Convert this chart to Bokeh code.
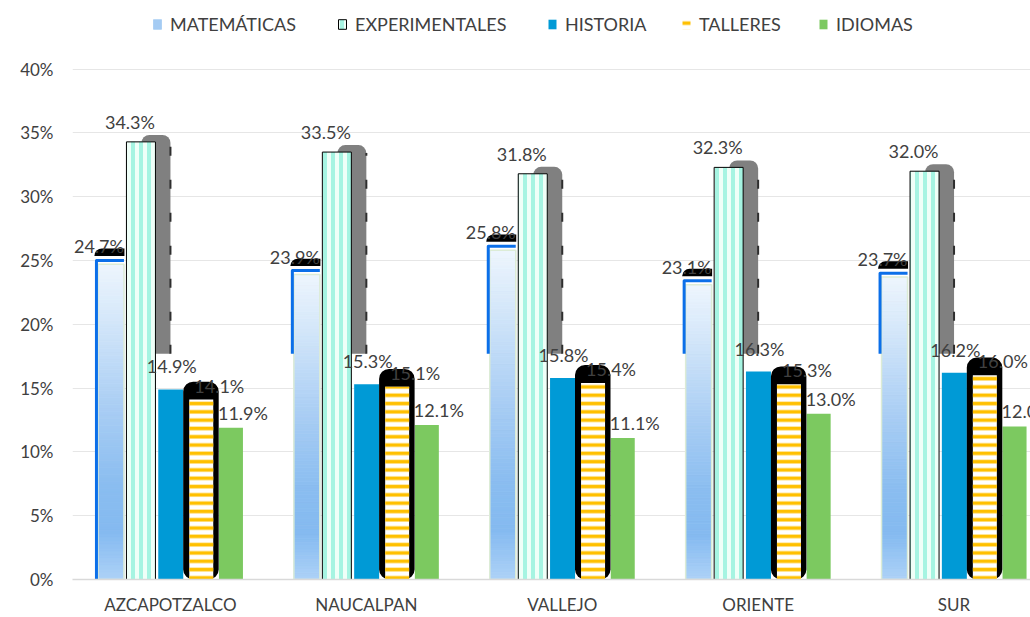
import numpy as np
from bokeh.plotting import figure
from bokeh.models import (ColumnDataSource, Range1d, FixedTicker, Legend, LegendItem,
                          PrintfTickFormatter)
from bokeh.core.properties import value
from bokeh.embed import file_html
from bokeh.resources import INLINE

# ---------------- data ----------------
categories = ["AZCAPOTZALCO", "NAUCALPAN", "VALLEJO", "ORIENTE", "SUR"]
series_names = ["MATEMÁTICAS", "EXPERIMENTALES", "HISTORIA", "TALLERES", "IDIOMAS"]
matematicas = [24.7, 23.9, 25.8, 23.1, 23.7]
experimentales = [34.3, 33.5, 31.8, 32.3, 32.0]
historia = [14.9, 15.3, 15.8, 16.3, 16.2]
talleres = [14.1, 15.1, 15.4, 15.3, 16.0]
idiomas = [11.9, 12.1, 11.1, 13.0, 12.0]
y_ticks = [0, 5, 10, 15, 20, 25, 30, 35, 40]

# ---------------- geometry / style ----------------
FONT = "Lato"
TEXT = "#404040"
W, H = 1030, 617
BL, BB = 72, 35
FRAME_W = W - BL
FRAME_H = H - BB
UX = 195.9            # px per category
UY = 12.825           # px per percent
PX = 1.0 / UX
PY = 1.0 / UY
CLIP = 17.7           # level where the shadow artefacts end
EDGE_REACH = [0.0, CLIP, CLIP, CLIP, CLIP]
LEGEND_X = [152, 337, 547, 681, 818]   # icon left edges (px)

base = np.arange(len(categories)) + 0.5
mat = np.array(matematicas)
exp_ = np.array(experimentales)
his = np.array(historia)
tal = np.array(talleres)
idi = np.array(idiomas)

x_mat = base - 59.5 * PX
x_exp = base - 29.5 * PX
x_his = base + 0.3 * PX
x_tal = base + 30.8 * PX
x_idi = base + 60.5 * PX

p = figure(width=W, height=H, x_range=Range1d(0, FRAME_W / UX),
           y_range=Range1d(0, FRAME_H / UY), output_backend="svg",
           toolbar_location=None, min_border_left=BL, min_border_right=0,
           min_border_top=0, min_border_bottom=BB)
p.outline_line_color = None
p.background_fill_color = "white"
p.border_fill_color = "white"

# grid
p.xgrid.visible = False
p.ygrid.ticker = FixedTicker(ticks=y_ticks[1:])
p.ygrid.grid_line_color = "#e6e6e6"
p.ygrid.grid_line_width = 1

# y axis
p.yaxis.ticker = FixedTicker(ticks=y_ticks)
p.yaxis.formatter = PrintfTickFormatter(format="%d%%")
p.yaxis.axis_line_color = None
p.yaxis.major_tick_line_color = None
p.yaxis.major_tick_out = 0
p.yaxis.major_tick_in = 0
p.yaxis.minor_tick_line_color = None
p.yaxis.minor_tick_out = 0
p.yaxis.major_label_standoff = 19
p.yaxis.major_label_text_font = FONT
p.yaxis.major_label_text_font_size = "17px"
p.yaxis.major_label_text_color = TEXT

# x axis
p.xaxis.ticker = FixedTicker(ticks=list(base))
p.xaxis.major_label_overrides = {float(b): c for b, c in zip(base, categories)}
p.xaxis.axis_line_color = "#d9d9d9"
p.xaxis.axis_line_width = 1.5
p.xaxis.major_tick_line_color = None
p.xaxis.major_tick_out = 0
p.xaxis.major_tick_in = 0
p.xaxis.minor_tick_line_color = None
p.xaxis.minor_tick_out = 0
p.xaxis.major_label_standoff = 14
p.xaxis.major_label_text_font = FONT
p.xaxis.major_label_text_font_size = "17px"
p.xaxis.major_label_text_color = TEXT


def add_labels(xs, vals, dx, dy):
    src = ColumnDataSource(dict(x=xs + dx * PX, y=vals,
                                t=["%.1f%%" % v for v in vals]))
    p.text(x="x", y="y", text="t", source=src, y_offset=dy, text_align="center",
           text_baseline="middle", text_font=value(FONT), text_font_size="18px",
           text_color=TEXT)


# ---------- EXPERIMENTALES shadow (behind) ----------
sh_x = x_exp + 15 * PX
sh_top = exp_ + 7 * PY
p.vbar(x=sh_x, top=sh_top, bottom=CLIP, width=29 * PX, fill_color="#808080",
       line_color=None, border_radius=(8, 8, 0, 0))
p.segment(x0=sh_x + 14.5 * PX, y0=CLIP, x1=sh_x + 14.5 * PX, y1=sh_top - 8 * PY,
          line_color="#2e2e2e", line_width=2, line_dash="9 24")

# ---------- MATEMÁTICAS gradient ----------
N = 90
stops_t = [0.0, 0.15, 0.3, 0.55, 0.85, 1.0]
stops_c = ["#aed2f7", "#85baf0", "#8abdf0", "#aacef4", "#d8e9fa", "#edf5fd"]
rgb = np.array([[int(c[i:i + 2], 16) for i in (1, 3, 5)] for c in stops_c], float)
gx, gb, gt, gc = [], [], [], []
for i in range(len(categories)):
    for k in range(N):
        t = (k + 0.5) / N
        col = [np.interp(t, stops_t, rgb[:, j]) for j in range(3)]
        gx.append(x_mat[i])
        gb.append(mat[i] * k / N)
        gt.append(mat[i] * (k + 1) / N)
        gc.append("#%02x%02x%02x" % tuple(int(round(v)) for v in col))
gsrc = ColumnDataSource(dict(x=gx, bottom=gb, top=gt, color=gc))
r_mat = p.vbar(x="x", bottom="bottom", top="top", width=26 * PX, source=gsrc,
               fill_color="color", line_color="color", line_width=0.8)
p.vbar(x=x_mat, top=mat, width=26 * PX, fill_color=None, line_color="#dcecd6",
       line_width=1.5)
# blue edge on left & top
exs, eys = [], []
for i in range(len(categories)):
    xl = x_mat[i] - 14.5 * PX
    xr = x_mat[i] + 13 * PX
    yt = mat[i] + 4 * PY
    exs.append([xl, xl, xr])
    eys.append([EDGE_REACH[i], yt, yt])
p.multi_line(xs=exs, ys=eys, line_color="#0b6fe9", line_width=3, line_join="round")
# black cap
p.vbar(x=x_mat - 1.5 * PX, bottom=mat + 8.5 * PY, top=mat + 16 * PY, width=30 * PX,
       fill_color="black", line_color=None, border_radius=(8, 0, 0, 0))

# ---------- EXPERIMENTALES ----------
r_exp = p.vbar(x=x_exp, top=exp_, width=29 * PX, fill_color="#effff8",
               hatch_pattern="vertical_line", hatch_color="#a6f4e2", hatch_scale=8,
               hatch_weight=4, line_color="black", line_width=1)

# ---------- HISTORIA ----------
r_his = p.vbar(x=x_his, top=his, width=25 * PX, fill_color="#009ad6", line_color=None)

# ---------- IDIOMAS (its labels lie under the TALLERES shadow) ----------
r_idi = p.vbar(x=x_idi, top=idi, width=24 * PX, fill_color="#7cc960", line_color=None)
add_labels(x_idi, idi, 12, -15)

# ---------- TALLERES ----------
p.vbar(x=x_tal - 0.3 * PX, top=tal + 18 * PY, bottom=0, width=35.5 * PX,
       fill_color="black", line_color=None, border_radius=10)
r_tal = p.vbar(x=x_tal, top=tal, width=24 * PX, fill_color="white",
               hatch_pattern="horizontal_line", hatch_color="#ffc000", hatch_scale=8.3,
               hatch_weight=3.6, line_color=None)

# ---------- other data labels ----------
add_labels(x_mat, mat, -12, -18)
add_labels(x_exp, exp_, -11, -20)
add_labels(x_his, his, 1, -23)
add_labels(x_tal, tal, 18, -14)

# ---------- legend (one entry each, placed at the reference icon positions) ----------
renderers = [r_mat, r_exp, r_his, r_tal, r_idi]
for k, (name, rr) in enumerate(zip(series_names, renderers)):
    item = LegendItem(label=name, renderers=[rr], index=(N // 2 if k == 0 else None))
    lg = Legend(items=[item], orientation="horizontal",
                location=(LEGEND_X[k] - BL, FRAME_H - 38))
    lg.label_text_font = FONT
    lg.label_text_font_size = "18px"
    lg.label_text_color = TEXT
    lg.label_height = 20
    lg.glyph_width = 10
    lg.glyph_height = 12
    lg.label_standoff = 8
    lg.padding = 0
    lg.margin = 0
    lg.background_fill_alpha = 0
    lg.border_line_alpha = 0
    p.add_layout(lg)

open("out.html", "w").write(file_html(p, INLINE))
